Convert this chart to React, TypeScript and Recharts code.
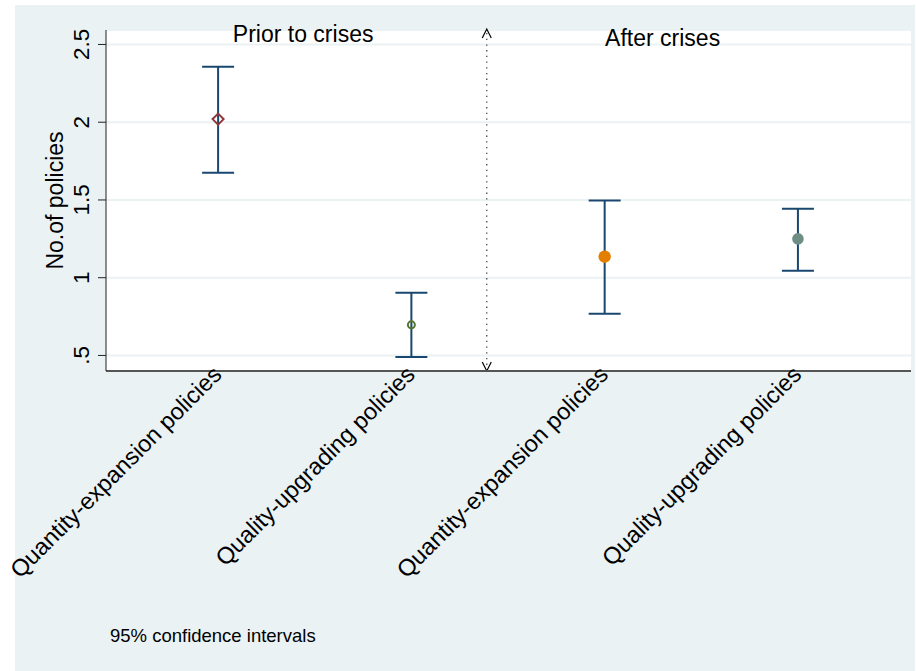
import React from "react";
import { ScatterChart, Scatter, XAxis, YAxis, CartesianGrid, ErrorBar, ReferenceLine, ReferenceDot } from "recharts";

const categories = [
  "Quantity-expansion policies",
  "Quality-upgrading policies",
  "Quantity-expansion policies",
  "Quality-upgrading policies",
];
const means = [2.02, 0.697, 1.135, 1.25];
const lower = [1.675, 0.49, 0.768, 1.045];
const upper = [2.357, 0.904, 1.497, 1.444];
const markers = ["diamond", "hollow", "orange", "teal"];
const yTicks = [0.5, 1, 1.5, 2, 2.5];
const yTickLabels = [".5", "1", "1.5", "2", "2.5"];

const data = means.map((m, i) => ({
  x: i + 1,
  y: m,
  err: [m - lower[i], upper[i] - m],
  marker: markers[i],
}));

const FONT = "'Liberation Sans', Arial, sans-serif";
const NAVY = "#1a476f";

function PointShape(props: any) {
  const { cx, cy, payload } = props;
  if (cx == null || cy == null) return null;
  if (payload.marker === "diamond") {
    const r = 5.5;
    return (
      <path
        d={`M${cx},${cy - r} L${cx + r},${cy} L${cx},${cy + r} L${cx - r},${cy} Z`}
        fill="none"
        stroke="#90353b"
        strokeWidth={2}
      />
    );
  }
  if (payload.marker === "hollow") {
    return <circle cx={cx} cy={cy} r={3.5} fill="none" stroke="#55752f" strokeWidth={2} />;
  }
  if (payload.marker === "orange") {
    return <circle cx={cx} cy={cy} r={6.2} fill="#e37e00" />;
  }
  return <circle cx={cx} cy={cy} r={5.8} fill="#6e8e84" />;
}

function XTick(props: any) {
  const { x, y, payload } = props;
  const label = categories[Math.round(payload.value) - 1] ?? "";
  const px = x + 5;
  const py = y - 3;
  return (
    <text
      x={px}
      y={py}
      textAnchor="end"
      transform={`rotate(-45, ${px}, ${py})`}
      fontSize={23.5}
      fontFamily={FONT}
      fill="#000"
    >
      {label}
    </text>
  );
}

function YTick(props: any) {
  const { x, y, payload } = props;
  const idx = yTicks.indexOf(payload.value);
  const tx = x - 14;
  return (
    <text
      x={tx}
      y={y}
      textAnchor="middle"
      dominantBaseline="central"
      transform={`rotate(-90, ${tx}, ${y})`}
      fontSize={22.5}
      fontFamily={FONT}
      fill="#000"
    >
      {idx >= 0 ? yTickLabels[idx] : payload.value}
    </text>
  );
}

function YLabel(props: any) {
  const vb = props.viewBox || { x: 0, y: 0, width: 0, height: 0 };
  const tx = vb.x + 40;
  const ty = vb.y + vb.height / 2;
  return (
    <text
      x={tx}
      y={ty}
      textAnchor="middle"
      dominantBaseline="central"
      transform={`rotate(-90, ${tx}, ${ty})`}
      fontSize={23}
      fontFamily={FONT}
      fill="#000"
    >
      No.of policies
    </text>
  );
}

function Divider(props: any) {
  const { x1, y1, x2, y2 } = props;
  const top = Math.min(y1, y2);
  const bottom = Math.max(y1, y2);
  return (
    <g>
      <line x1={x1} y1={top + 3} x2={x2} y2={bottom - 3} stroke="#444" strokeWidth={1.3} strokeDasharray="1.3 4.4" />
      <path d={`M${x1 - 4.5},${top + 8} L${x1},${top - 1} L${x1 + 4.5},${top + 8}`} fill="none" stroke="#000" strokeWidth={1.2} />
      <path d={`M${x1 - 4.5},${bottom - 9} L${x1},${bottom} L${x1 + 4.5},${bottom - 9}`} fill="none" stroke="#000" strokeWidth={1.2} />
    </g>
  );
}

function Title(text: string) {
  return (props: any) => {
    const vb = props.viewBox || { x: 0, y: 0, width: 0, height: 0 };
    return (
      <text
        x={vb.x + vb.width / 2}
        y={vb.y + vb.height / 2}
        textAnchor="middle"
        fontSize={23}
        fontFamily={FONT}
        fill="#000"
      >
        {text}
      </text>
    );
  };
}

export default function App() {
  return (
    <div style={{ position: "absolute", left: 0, top: 0, width: 916, height: 671, background: "#fff" }}>
      <div style={{ position: "absolute", left: 15, top: 5, width: 900, height: 666, background: "#eaf2f3" }} />
      <div style={{ position: "absolute", left: 0, top: 0 }}>
        <ScatterChart width={916} height={671} margin={{ top: 30, right: 5, bottom: 50, left: 15 }}>
          <CartesianGrid vertical={false} stroke="#eaf2f3" strokeWidth={2} fill="#fff" />
          <XAxis
            type="number"
            dataKey="x"
            domain={[0.42, 4.585]}
            ticks={[1, 2, 3, 4]}
            tick={<XTick />}
            tickLine={false}
            axisLine={{ stroke: "#555", strokeWidth: 2 }}
            height={250}
            interval={0}
            allowDataOverflow
          />
          <YAxis
            type="number"
            dataKey="y"
            domain={[0.4, 2.593]}
            ticks={yTicks}
            tick={<YTick />}
            tickSize={8}
            tickLine={{ stroke: "#222" }}
            axisLine={{ stroke: "#222" }}
            width={91}
            interval={0}
            allowDataOverflow
            label={<YLabel />}
          />
          <ReferenceLine x={2.39} stroke="#444" shape={<Divider />} ifOverflow="visible" />
          <ReferenceDot x={1.44} y={2.515} r={0} stroke="none" fill="none" ifOverflow="visible" label={{ content: Title("Prior to crises") }} />
          <ReferenceDot x={3.3} y={2.49} r={0} stroke="none" fill="none" ifOverflow="visible" label={{ content: Title("After crises") }} />
          <Scatter data={data} shape={<PointShape />} isAnimationActive={false}>
            <ErrorBar dataKey="err" direction="y" width={16} stroke={NAVY} strokeWidth={2} />
          </Scatter>
        </ScatterChart>
      </div>
      <div
        style={{
          position: "absolute",
          left: 110,
          top: 625,
          fontFamily: FONT,
          fontSize: 18.5,
          color: "#000",
          whiteSpace: "nowrap",
        }}
      >
        95% confidence intervals
      </div>
    </div>
  );
}
